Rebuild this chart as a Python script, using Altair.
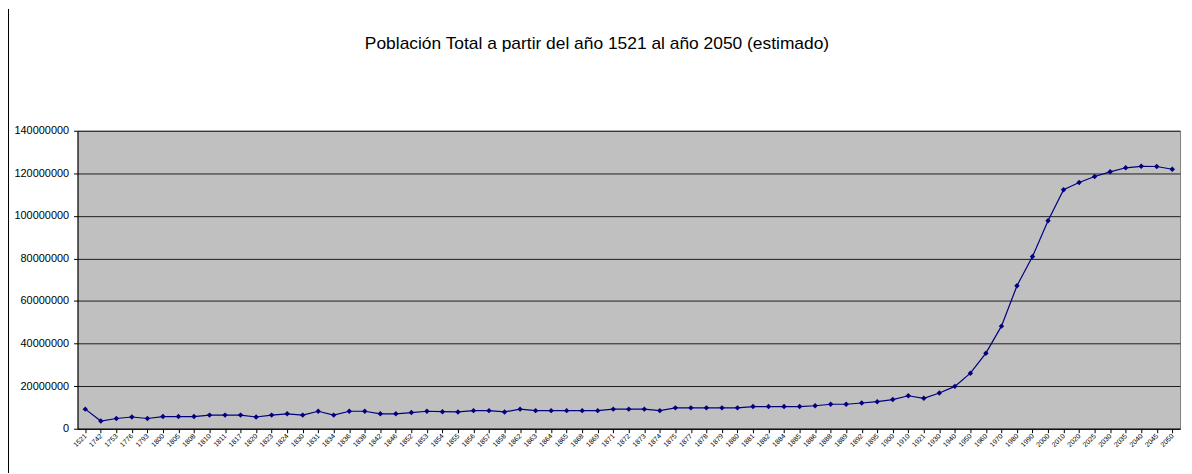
import altair as alt
import pandas as pd

years = ["1521", "1742", "1753", "1776", "1793", "1800", "1805", "1808", "1810", "1811",
         "1817", "1820", "1823", "1824", "1830", "1831", "1834", "1836", "1838", "1842",
         "1846", "1852", "1853", "1854", "1855", "1856", "1857", "1858", "1862", "1863",
         "1864", "1865", "1868", "1869", "1871", "1872", "1873", "1874", "1875", "1877",
         "1878", "1879", "1880", "1881", "1882", "1884", "1885", "1886", "1888", "1889",
         "1892", "1895", "1900", "1910", "1921", "1930", "1940", "1950", "1960", "1970",
         "1980", "1990", "2000", "2010", "2020", "2025", "2030", "2035", "2040", "2045",
         "2050"]

millions = [9.2, 3.6, 4.8, 5.5, 4.8, 5.7, 5.7, 5.7, 6.4, 6.4,
            6.4, 5.5, 6.4, 7.0, 6.4, 8.2, 6.4, 8.2, 8.2, 7.0,
            7.0, 7.6, 8.2, 8.0, 7.9, 8.5, 8.5, 7.9, 9.2, 8.5,
            8.5, 8.5, 8.5, 8.5, 9.2, 9.2, 9.2, 8.5, 9.8, 9.8,
            9.8, 9.8, 9.8, 10.4, 10.4, 10.4, 10.4, 10.8, 11.5, 11.5,
            12.1, 12.7, 13.7, 15.5, 14.3, 16.8, 19.9, 26.1, 35.5, 48.2,
            67.2, 80.9, 97.7, 112.3, 115.7, 118.5, 120.7, 122.6, 123.3, 123.2,
            121.9]

y_ticks = [0, 20000000, 40000000, 60000000, 80000000, 100000000, 120000000, 140000000]

df = pd.DataFrame({
    "year": years,
    "pop": [round(m * 1_000_000) for m in millions],
})

FONT = "Liberation Sans"

x_enc = alt.X("year:N", sort=None,
              scale=alt.Scale(type="point", padding=0.5),
              axis=alt.Axis(title=None, labelAngle=315, labelAlign="right",
                            labelBaseline="middle", labelFontSize=7,
                            labelColor="#000000", labelFont=FONT,
                            labelOverlap=False, labelPadding=2,
                            domainColor="#000000", tickColor="#000000",
                            tickSize=4, grid=False))
y_enc = alt.Y("pop:Q",
              scale=alt.Scale(domain=[0, 140000000], nice=False),
              axis=alt.Axis(title=None, values=y_ticks, format="d",
                            labelFontSize=11, labelFont=FONT,
                            labelColor="#000000", labelPadding=5,
                            domainColor="#000000", tickColor="#000000",
                            tickSize=4, grid=True, gridColor="#000000",
                            gridWidth=1, gridOpacity=0.85))

line = alt.Chart(df).mark_line(color="#000080", strokeWidth=1.2).encode(x=x_enc, y=y_enc)
pts = alt.Chart(df).mark_point(shape="diamond", filled=True, color="#000080",
                               size=30, opacity=1).encode(x=x_enc, y=y_enc)

# chart-area frame line on the left edge (as in the spreadsheet export)
frame = alt.Chart(df).mark_rule(color="#000000", strokeWidth=1).encode(
    x=alt.value(-69.5), y=alt.value(-122), y2=alt.value(344)
)

chart = (frame + line + pts).properties(
    width=1110,
    height=300,
    title=alt.TitleParams(
        "Población Total a partir del año 1521 al año 2050 (estimado)",
        font=FONT, fontSize=17.5, fontWeight="normal", color="#000000",
        anchor="middle", frame="group", offset=-44, dx=-32,
    ),
    padding={"left": 70, "top": 122, "right": 4, "bottom": 44},
    autosize=alt.AutoSizeParams(type="none"),
).configure(
    background="#FFFFFF",
    view=alt.ViewConfig(fill="#C0C0C0", stroke="#808080", strokeWidth=1),
)

chart.save("out.html", embed_options={"renderer": "svg", "actions": False})
